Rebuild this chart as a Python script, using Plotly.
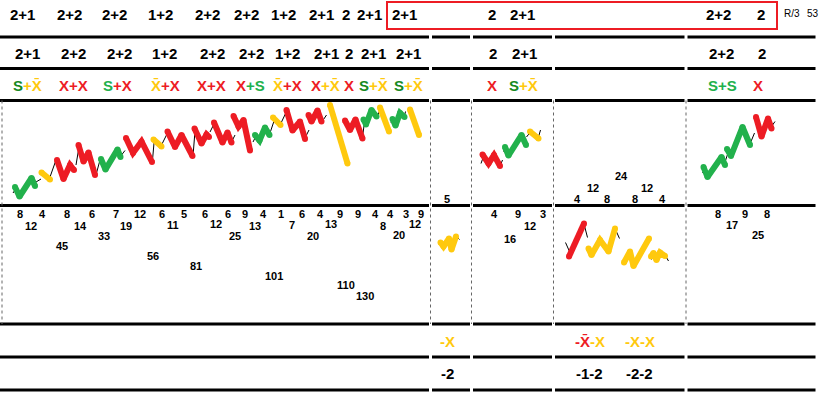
import plotly.graph_objects as go

W, H = 823, 393
RED = "#ed1c24"
YEL = "#ffc90e"
GRN = "#22b14c"
DGRN = "#178a1f"
XB = "X\u0304"

# ---------------- data ----------------
# wave paths (x position, level) ; None separates waves
GREEN_X = [15, 19.5, 31.5, 35, None, 101, 105.5, 117.5, 120.5, None, 255, 259.5, 265, 269.5, None,
           363.5, 366, 371.5, 376.5, None, 392.5, 395.5, 400, 404.5, None, 505, 508.5, 521.5, 526, None,
           703.5, 707.5, 721.5, 725, None, 727, 731, 742.5, 750]
GREEN_Y = [187, 196.5, 178, 186, None, 159, 169.5, 149.5, 157, None, 135, 140.5, 127.5, 135, None,
           119.5, 124.5, 110, 116.5, None, 119, 125.5, 113, 117, None, 147, 155.5, 135, 145, None,
           167, 177, 157, 165, None, 149, 156, 127, 145]

RED_X = [57, 63.5, 70, 74, None, 78.5, 83.5, 88.5, 95, None, 126, 133, 141.5, 152, None,
         167.5, 175, 181.5, 192.5, None, 194.5, 201.5, 206.5, 209, None, 214, 222.5, 227.5, 231.5, None,
         233.5, 238.5, 243.5, 250, None, 286.5, 292.5, 300, 305, None, 308.5, 311.5, 317.5, 321.5, None,
         345, 350, 355.5, 362.5, None, 482.5, 488.5, 494, 500, None, 756, 761.5, 768, 771.5, None,
         569, 584]
RED_Y = [160, 179, 165, 170, None, 145, 161.5, 152.5, 175, None, 138, 153, 141.5, 162, None,
         131.5, 147, 135, 156, None, 128.5, 143.5, 134.5, 137, None, 122.5, 142.5, 132.5, 142.5, None,
         116, 126.5, 120, 150.5, None, 110, 130.5, 121.5, 139, None, 115, 121.5, 110.5, 121.5, None,
         120.5, 130, 119.5, 138.5, None, 154.5, 163.5, 155, 166, None, 117, 136.5, 118.5, 128.5, None,
         256.5, 223.5]

YEL_X = [41.5, 50, None, 153.5, 161.5, None, 273, 280.5, None, 330, 347.5, None, 380, 389, None,
         410, 419, None, 530, 538.5, None, 440.5, 443.5, 449, 451.5, 456, None,
         588.5, 591.5, 600, 608.5, 615, None, 624, 630, 633.5, 649, None, 651, 653.5, 656.5, 660, 665]
YEL_Y = [172.5, 179.5, None, 139.5, 146.5, None, 117.5, 125, None, 105, 163.5, None, 107.5, 131.5, None,
         109.5, 135, None, 131.5, 138.5, None, 242.5, 246.5, 238.5, 249.5, 236.5, None,
         248.5, 255, 240, 251.5, 228.5, None, 262.5, 251.5, 266, 238.5, None, 256.5, 253, 260, 252.5, 256]

LINK_X = [13, 17, None, 36, 41, None, 50, 56, None, 76, 79, None, 96.5, 100, None, 121.5, 125, None,
          152.5, 154, None, 161.5, 166.5, None, 193, 195, None, 210, 214, None, 232.5, 235, None,
          253, 256, None, 270, 274, None, 281.5, 286.5, None, 305.5, 309, None, 322.5, 326.5, None,
          362.5, 364.5, None, 377.5, 379.5, None, 391, 392.5, None, 404.5, 405.5, None,
          481, 483.5, None, 500.5, 502.5, None, 503.5, 506, None, 526.5, 530, None, 538.5, 540.5, None,
          702.5, 705, None, 725, 728, None, 751, 754.5, None, 771.5, 775, None,
          439.5, 441.5, None, 456.5, 459.5, None, 565.5, 569.5, None, 584, 587.5, None, 587.5, 590, None,
          615, 619.5, None, 649.5, 651.5, None, 665, 668.5]
LINK_Y = [193, 187, None, 182, 179, None, 177, 160, None, 165, 147, None, 173, 160, None, 155, 150.5, None,
          160, 143, None, 145, 135, None, 156, 131, None, 132, 124, None, 140, 135, None,
          142, 136, None, 133, 121, None, 122, 111.5, None, 137, 130, None, 121, 115, None,
          137, 122, None, 116.5, 111, None, 123, 119.5, None, 116, 111.5, None,
          163.5, 156.5, None, 165, 160, None, 151.5, 146.5, None, 137, 132.5, None, 137, 130, None,
          173, 169, None, 162, 153, None, 141.5, 133, None, 126.5, 121.5, None,
          240.5, 243.5, None, 236.5, 239.5, None, 242.5, 251.5, None, 224, 237.5, None, 246.5, 253.5, None,
          228.5, 238.5, None, 255, 259.5, None, 255, 261]

TOP_X = [22, 69, 114, 160, 207, 246, 283, 321, 346, 369, 404, 492, 522, 718, 761]
TOP_T = ["2+1", "2+2", "2+2", "1+2", "2+2", "2+2", "1+2", "2+1", "2", "2+1", "2+1", "2", "2+1", "2+2", "2"]
ROW2_X = [27, 73, 119, 164, 212, 251, 287, 326, 349, 373, 408, 493, 524, 721, 762]
ROW2_T = TOP_T
ROW3_X = [27, 73, 117, 165, 211, 250, 287, 325, 349, 373, 408, 492, 523, 722, 758]
ROW3_PARTS = [
    [("S", DGRN), ("+" + XB, YEL)],
    [("X+X", RED)],
    [("S", GRN), ("+X", RED)],
    [(XB, YEL), ("+X", RED)],
    [("X+X", RED)],
    [("X", RED), ("+S", GRN)],
    [(XB, YEL), ("+X", RED)],
    [("X", RED), ("+" + XB, YEL)],
    [("X", RED)],
    [("S", DGRN), ("+" + XB, YEL)],
    [("S", DGRN), ("+" + XB, YEL)],
    [("X", RED)],
    [("S", DGRN), ("+" + XB, YEL)],
    [("S+S", GRN)],
    [("X", RED)],
]

NUM_X = [20, 42.5, 31, 66.5, 91.5, 80, 61.5, 116, 139.5, 126, 104, 161.5, 184, 172.5, 152.5,
         205, 228, 216, 245, 263.5, 255, 235, 195.5, 281, 301.5, 291.5, 320, 340, 331, 312.5, 274,
         357.5, 375, 390.5, 382.5, 405.5, 421, 415, 399, 345.5, 365,
         494, 517.5, 542.5, 529.5, 509.5, 717.5, 745, 766.5, 731.5, 757.5,
         446.5, 577.5, 592.5, 606.5, 621, 635, 646.5, 662.5]
NUM_Y = [214, 214, 225.5, 214, 214, 225.5, 246, 214, 214, 226, 236, 214, 214, 225, 256,
         214, 214, 224, 214, 214, 225.5, 235.5, 266, 214, 214, 225, 214, 214, 224, 235.5, 276,
         214, 214, 214, 225.5, 214, 214, 224, 235, 285, 296,
         214, 214, 214, 226, 238.5, 214, 214, 214, 224.5, 234.5,
         199, 199, 188, 199, 176, 199, 188, 199]
NUM_T = ["8", "4", "12", "8", "6", "14", "45", "7", "12", "19", "33", "6", "5", "11", "56",
         "6", "6", "12", "9", "4", "13", "25", "81", "1", "6", "7", "4", "9", "13", "20", "101",
         "9", "4", "4", "8", "3", "9", "12", "20", "110", "130",
         "4", "9", "3", "12", "16", "8", "9", "8", "17", "25",
         "5", "4", "12", "8", "24", "8", "12", "4"]

MINUS_X = [447, 590, 640]
MINUS_PARTS = [[("-X", YEL)], [("-" + XB, RED), ("-X", YEL)], [("-X-X", YEL)]]
MINUS_NUM_X = [447, 589, 639]
MINUS_NUM_T = ["-2", "-1-2", "-2-2"]

# ---------------- layout geometry ----------------
COL_BREAKS = [2, 430.5, 471.5, 553.5, 686, 817]
H_LINES = [37, 68.5, 100.5, 205.5, 324, 357, 390]
ROW_Y = {"top": 14, "row2": 53, "row3": 85, "minus": 341, "mnum": 373}
FONT = "Liberation Sans"

fig = go.Figure()

def add_path(xs, ys, color, width, msize=0):
    fig.add_trace(go.Scatter(x=xs, y=ys, mode="lines+markers" if msize else "lines",
                             line=dict(color=color, width=width),
                             marker=dict(color=color, size=msize, line=dict(width=0)),
                             hoverinfo="skip", showlegend=False, connectgaps=False))

add_path(LINK_X, LINK_Y, "black", 1)
add_path(GREEN_X, GREEN_Y, GRN, 6, 6)
add_path(RED_X, RED_Y, RED, 6, 6)
add_path(YEL_X, YEL_Y, YEL, 6, 6)

def rich(parts):
    return "".join(f"<span style='color:{c}'>{t}</span>" for t, c in parts)

def ann(x, y, text, size, color="black", bold=True):
    fig.add_annotation(x=x, y=y, xref="x", yref="y", text=text, showarrow=False,
                       xanchor="center", yanchor="middle",
                       font=dict(family=FONT, size=size, color=color, weight="bold" if bold else "normal"))

for x, t in zip(TOP_X, TOP_T):
    ann(x, ROW_Y["top"], t, 15)
for x, t in zip(ROW2_X, ROW2_T):
    ann(x, ROW_Y["row2"], t, 15)
for x, p in zip(ROW3_X, ROW3_PARTS):
    ann(x, ROW_Y["row3"], rich(p), 15)
for x, y, t in zip(NUM_X, NUM_Y, NUM_T):
    ann(x, y, t, 11)
for x, p in zip(MINUS_X, MINUS_PARTS):
    ann(x, ROW_Y["minus"], rich(p), 15)
for x, t in zip(MINUS_NUM_X, MINUS_NUM_T):
    ann(x, ROW_Y["mnum"], t, 15)
ann(792, 13, "R/3", 10, bold=False)
ann(813, 13, "53", 10, bold=False)

shapes = []
for y in H_LINES:
    for a, b in zip(COL_BREAKS[:-1], COL_BREAKS[1:]):
        shapes.append(dict(type="line", xref="x", yref="y", x0=a + 1.5 if a > 2 else 0, x1=b - 1.5,
                           y0=y, y1=y, line=dict(color="black", width=3)))
for x in COL_BREAKS[:-1]:
    shapes.append(dict(type="line", xref="x", yref="y", x0=x, x1=x, y0=100.5, y1=324,
                       line=dict(color="#666666", width=1, dash="3px,3px")))
shapes.append(dict(type="rect", xref="x", yref="y", x0=387, x1=777, y0=2, y1=29,
                   line=dict(color=RED, width=2)))

fig.update_layout(width=W, height=H, autosize=False, margin=dict(l=0, r=0, t=0, b=0),
                  paper_bgcolor="white", plot_bgcolor="white", shapes=shapes,
                  xaxis=dict(range=[0, W], visible=False, fixedrange=True),
                  yaxis=dict(range=[H, 0], visible=False, fixedrange=True),
                  showlegend=False)
fig.write_html("out.html", config={"displayModeBar": False},
               post_script="document.body.style.margin='0';document.body.style.overflow='hidden';")
